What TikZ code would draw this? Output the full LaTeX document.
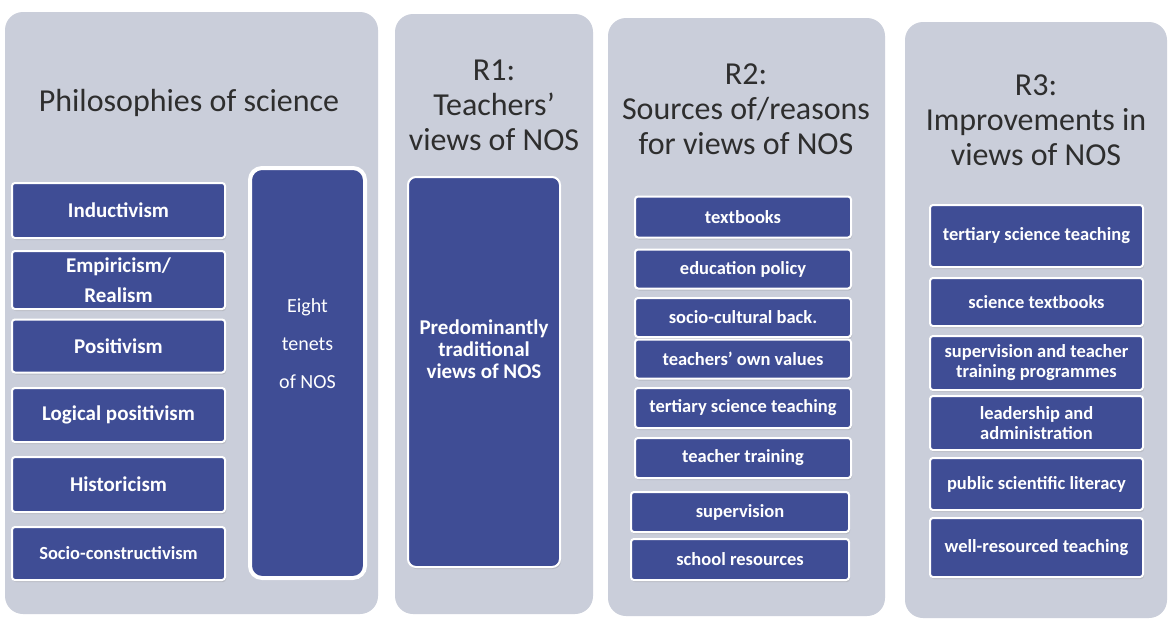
\documentclass[tikz,border=0pt]{standalone}
\usepackage{fontspec}
\setmainfont{Carlito}
\usetikzlibrary{shadows}
\definecolor{panelgray}{HTML}{CACEDA}
\definecolor{boxblue}{HTML}{3F4D95}
\definecolor{titlegray}{HTML}{2E2E2E}
\begin{document}
\begin{tikzpicture}[x=1pt, y=-1pt,
    panel/.style={fill=panelgray, rounded corners=18pt, minimum width=#1},
    ptitle/.style={text=titlegray, align=center, font=\fontsize{32}{35}\selectfont},
    item/.style={fill=boxblue, draw=white, line width=2pt, rounded corners=3pt,
      text=white, align=center, font=\bfseries\fontsize{21}{30}\selectfont,
      drop shadow={opacity=0.25, shadow xshift=1pt, shadow yshift=-2pt}},
    smallitem/.style={item, font=\bfseries\fontsize{18.5}{20}\selectfont}]
      \useasboundingbox (0,0) rectangle (1174,621);
      \fill[white] (0,0) rectangle (1174,621);

      \node[panel=373, minimum height=602] (pphil) at (191.5,313) {};
      \node[panel=198, minimum height=600] (pone) at (494,314) {};
      \node[panel=277, minimum height=598] (ptwo) at (746.5,317) {};
      \node[panel=262, minimum height=596] (pthree) at (1036,320) {};

      \node[ptitle] (tphil) at (189,103) {Philosophies of science};
      \node[ptitle] (tone) at (494,105) {R1:\\Teachers'\\views of NOS};
      \node[ptitle] (ttwo) at (746,109) {R2:\\Sources of/reasons\\for views of NOS};
      \node[ptitle] (tthree) at (1036,120) {R3:\\Improvements in\\views of NOS};

      \node[item, minimum width=213, minimum height=55] (induc) at (118.5,210.5) {Inductivism};
      \node[item, minimum width=213, minimum height=58] (empir) at (118.5,280) {Empiricism/\\Realism};
      \node[item, minimum width=213, minimum height=53] (posit) at (118.5,346) {Positivism};
      \node[item, minimum width=213, minimum height=54] (logpos) at (118.5,415) {Logical positivism};
      \node[item, minimum width=213, minimum height=55] (histor) at (118.5,484.5) {Historicism};
      \node[smallitem, minimum width=213, minimum height=53] (socio) at (118.5,553.5) {Socio-constructivism};

      \node[item, line width=4pt, rounded corners=12pt, minimum width=115, minimum height=410] (tenets) at (307.5,373) {};
      \node[text=white, align=center, font=\fontsize{20}{38}\selectfont] (tenetstxt) at ([yshift=29pt]tenets.center) {Eight\\tenets\\of NOS};

      \node[item, rounded corners=8pt, minimum width=152, minimum height=390] (trad) at (484,372) {};
      \node[text=white, align=center, font=\bfseries\fontsize{21}{22}\selectfont] (tradtxt) at ([yshift=23pt]trad.center) {Predominantly\\traditional\\views of NOS};

      \node[smallitem, minimum width=216, minimum height=41] (stext) at (743,217) {textbooks};
      \node[smallitem, minimum width=216, minimum height=39] (spolicy) at (743,269) {education policy};
      \node[smallitem, minimum width=216, minimum height=39] (sback) at (743,317.5) {socio-cultural back.};
      \node[smallitem, minimum width=216, minimum height=39] (svalues) at (743,359) {teachers' own values};
      \node[smallitem, minimum width=216, minimum height=40] (stert) at (743,408) {tertiary science teaching};
      \node[smallitem, minimum width=216, minimum height=40] (strain) at (743,458) {teacher training};
      \node[smallitem, minimum width=218, minimum height=40] (ssuper) at (740,512) {supervision};
      \node[smallitem, minimum width=218, minimum height=41] (sschool) at (740,559.5) {school resources};

      \node[smallitem, minimum width=213, minimum height=62] (itert) at (1036.5,236) {tertiary science teaching};
      \node[smallitem, minimum width=213, minimum height=48] (itext) at (1036.5,302) {science textbooks};
      \node[smallitem, minimum width=213, minimum height=54] (isuper) at (1036.5,363) {supervision and teacher\\training programmes};
      \node[smallitem, minimum width=213, minimum height=54] (ilead) at (1036.5,423) {leadership and\\administration};
      \node[smallitem, minimum width=213, minimum height=52] (ipublic) at (1036.5,484) {public scientific literacy};
      \node[smallitem, minimum width=213, minimum height=59] (iwell) at (1036.5,547.5) {well-resourced teaching};
\end{tikzpicture}
\end{document}
